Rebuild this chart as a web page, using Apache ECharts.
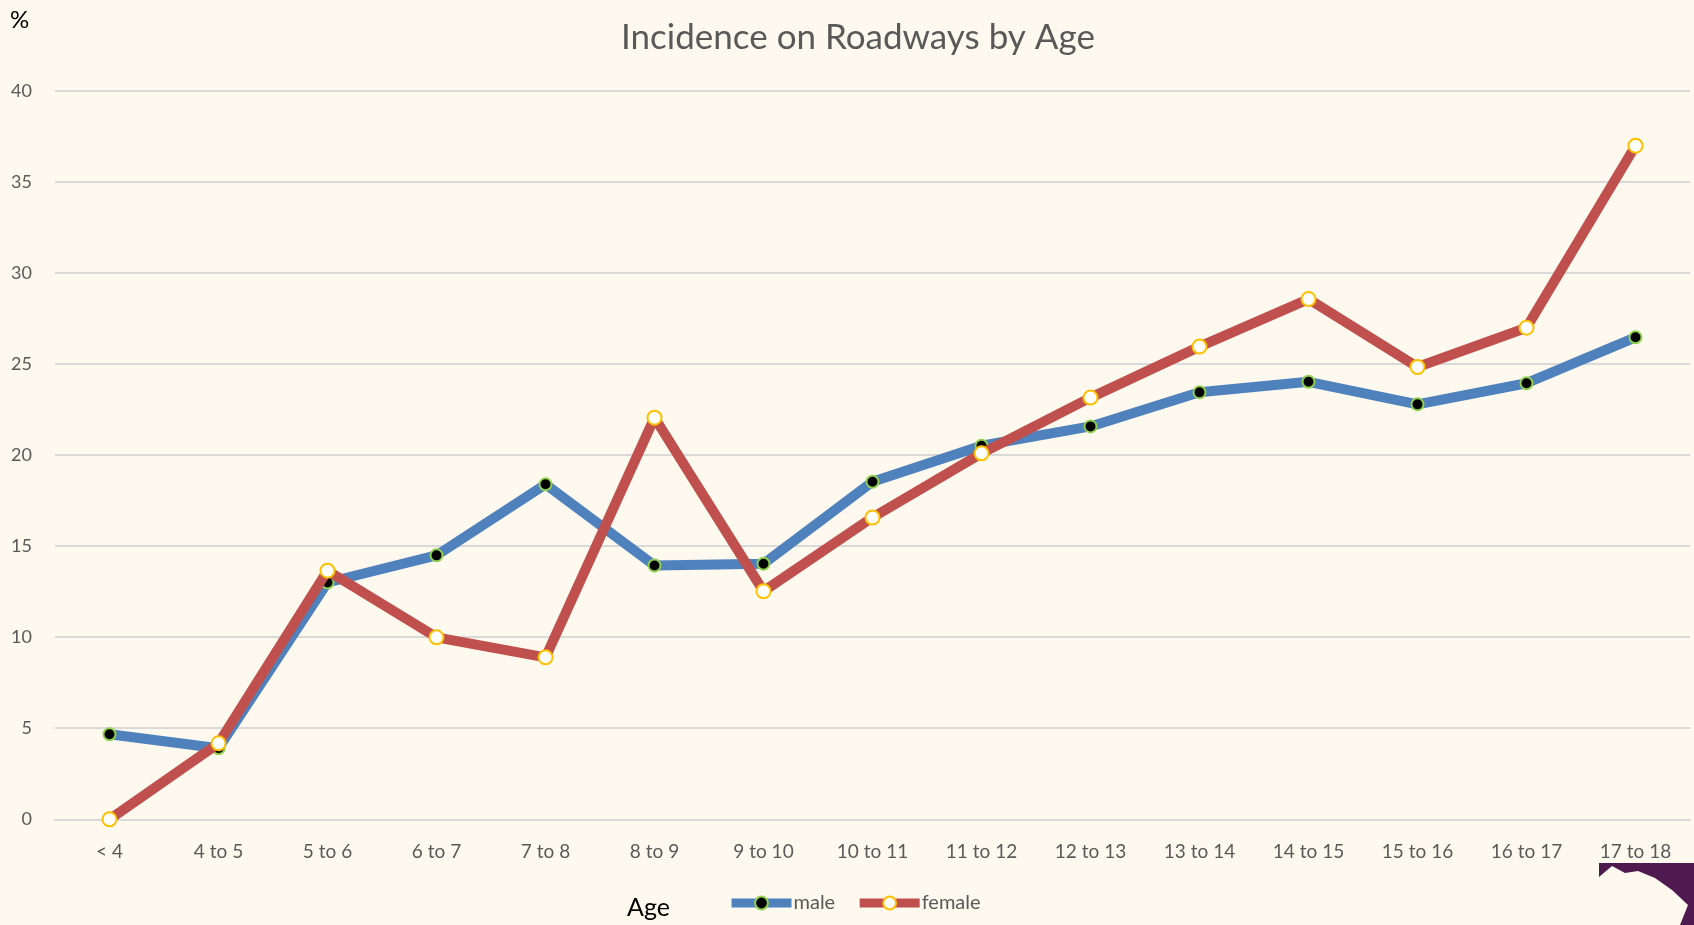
<!DOCTYPE html>
<html>
<head>
<meta charset="utf-8">
<script src="https://cdn.jsdelivr.net/npm/echarts@6/dist/echarts.min.js"></script>
<style>
html,body{margin:0;padding:0;background:#FDF9EE;}
#chart{width:1694px;height:925px;}
</style>
</head>
<body>
<div id="chart"></div>
<script>
var categories = ['< 4','4 to 5','5 to 6','6 to 7','7 to 8','8 to 9','9 to 10','10 to 11','11 to 12','12 to 13','13 to 14','14 to 15','15 to 16','16 to 17','17 to 18'];
var maleValues = [4.67, 3.9, 13.0, 14.49, 18.39, 13.93, 14.03, 18.53, 20.51, 21.57, 23.44, 24.02, 22.78, 23.94, 26.46];
var femaleValues = [0, 4.17, 13.65, 9.99, 8.89, 22.05, 12.52, 16.57, 20.09, 23.15, 25.95, 28.56, 24.83, 26.99, 36.98];
var yTicks = {min: 0, max: 40, interval: 5};

var FONT = 'Lato, "Open Sans", sans-serif';
var chart = echarts.init(document.getElementById('chart'));
chart.setOption({
  backgroundColor: '#FDF9EE',
  animation: false,
  title: {
    text: 'Incidence on Roadways by Age',
    left: 616, top: 15,
    textStyle: {fontFamily: FONT, fontSize: 35, fontWeight: 'normal', color: '#595959'}
  },
  grid: {left: 55, right: 4, top: 90.7, bottom: 105.7, containLabel: false},
  legend: {
    left: 727, top: 893, padding: 0,
    itemWidth: 60, itemHeight: 16, itemGap: 20,
    lineStyle: {width: 9},
    textStyle: {fontFamily: FONT, fontSize: 20, color: '#595959', padding: [0,0,0,-3]},
    data: ['male','female']
  },
  xAxis: {
    type: 'category',
    data: categories,
    boundaryGap: true,
    axisLine: {show: true, lineStyle: {color: '#D9D9D9', width: 2}},
    axisTick: {show: false},
    axisLabel: {fontFamily: FONT, fontSize: 19, color: '#595959', margin: 23}
  },
  yAxis: {
    type: 'value',
    min: yTicks.min, max: yTicks.max, interval: yTicks.interval,
    axisLine: {show: false},
    axisTick: {show: false},
    splitLine: {lineStyle: {color: '#D9D9D9', width: 2}},
    axisLabel: {fontFamily: FONT, fontSize: 18, color: '#595959', margin: 23}
  },
  series: [
    {
      name: 'male', type: 'line', data: maleValues,
      lineStyle: {color: '#4F81BD', width: 10},
      itemStyle: {color: '#000000', borderColor: '#92D050', borderWidth: 2},
      symbol: 'circle', symbolSize: 12, z: 2
    },
    {
      name: 'female', type: 'line', data: femaleValues,
      lineStyle: {color: '#C0504D', width: 10},
      itemStyle: {color: '#FFFFFF', borderColor: '#FFC000', borderWidth: 2},
      symbol: 'circle', symbolSize: 14, z: 3
    }
  ],
  graphic: [
    {type: 'text', left: 10, top: 8, style: {text: '%', fontFamily: FONT, fontSize: 24, fill: '#000000'}},
    {type: 'text', left: 627, top: 895, style: {text: 'Age', fontFamily: FONT, fontSize: 25, fill: '#000000'}},
    {type: 'polygon', shape: {points: [[1599,863],[1694,863],[1694,925],[1680,925],[1688,905],[1672,890],[1655,878],[1638,871],[1625,873],[1612,866],[1599,877]]}, style: {fill: '#4F1A50'}}
  ]
});
</script>
</body>
</html>
